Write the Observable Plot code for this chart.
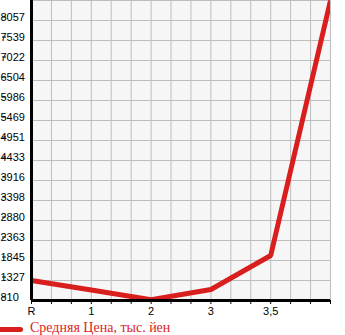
<!DOCTYPE html>
<html><head><meta charset="utf-8">
<script src="https://cdn.jsdelivr.net/npm/d3@7"></script>
<script src="https://cdn.jsdelivr.net/npm/@observablehq/plot@0.6"></script>
<style>
body{margin:0;background:#fff;}
#legend{position:relative;height:17px;font-family:"Liberation Serif",serif;font-size:14px;color:#d91e1e;}
#legend .sw{position:absolute;left:0;top:8px;width:23px;height:5px;background:#d91e1e;border-radius:0 3px 3px 0;}
#legend .tx{position:absolute;left:30px;top:1px;white-space:nowrap;}
</style>
</head><body>
<div id="chart"></div>
<div id="legend"><span class="sw"></span><span class="tx">Средняя Цена, тыс. йен</span></div>
<script>
const categories = ["R", "1", "2", "3", "3,5", ""];
const prices = [1330, 1080, 830, 1095, 1975, 8575];
const yTickLabels = [810, 1327, 1845, 2363, 2880, 3398, 3916, 4433, 4951, 5469, 5986, 6504, 7022, 7539, 8057];
const yMax = 8575;

const data = categories.map((c, i) => ({i, c, v: prices[i]}));
const xTicks = d3.range(0, 15.5).map(k => k / 3);
const gridY = yTickLabels.concat([yMax]);

const chart = Plot.plot({
  width: 345,
  height: 319,
  marginLeft: 31,
  marginRight: 15,
  marginTop: 0,
  marginBottom: 19,
  style: {fontFamily: "Liberation Sans, sans-serif", fontSize: "11px", color: "#000", background: "transparent"},
  x: {type: "linear", domain: [0, 5], label: null},
  y: {type: "linear", domain: [810, yMax], label: null},
  marks: [
    Plot.frame({fill: "#f6f6f6", stroke: null}),
    Plot.gridX(xTicks, {stroke: "#bdbdbd", strokeOpacity: 1, strokeWidth: 1}),
    Plot.gridY(gridY, {stroke: "#bdbdbd", strokeOpacity: 1, strokeWidth: 1}),
    Plot.axisY(yTickLabels, {tickSize: 4, tickPadding: 2, dy: -3.5, dx: -25, textAnchor: "start", tickFormat: d => String(d), stroke: "#000"}),
    Plot.axisX(xTicks, {tickSize: 4, tickPadding: 3, stroke: "#000",
      tickFormat: d => {const r = Math.round(d); return Math.abs(d - r) < 1e-6 ? categories[r] : "";}}),
    Plot.line(data, {x: "i", y: "v", stroke: "#d91e1e", strokeWidth: 5, clip: true, strokeLinejoin: "miter", strokeLinecap: "butt"}),
    Plot.ruleY([810], {stroke: "#000", strokeWidth: 3}),
    Plot.ruleX([0], {stroke: "#000", strokeWidth: 3})
  ]
});
document.getElementById("chart").appendChild(chart);
</script>
</body></html>
